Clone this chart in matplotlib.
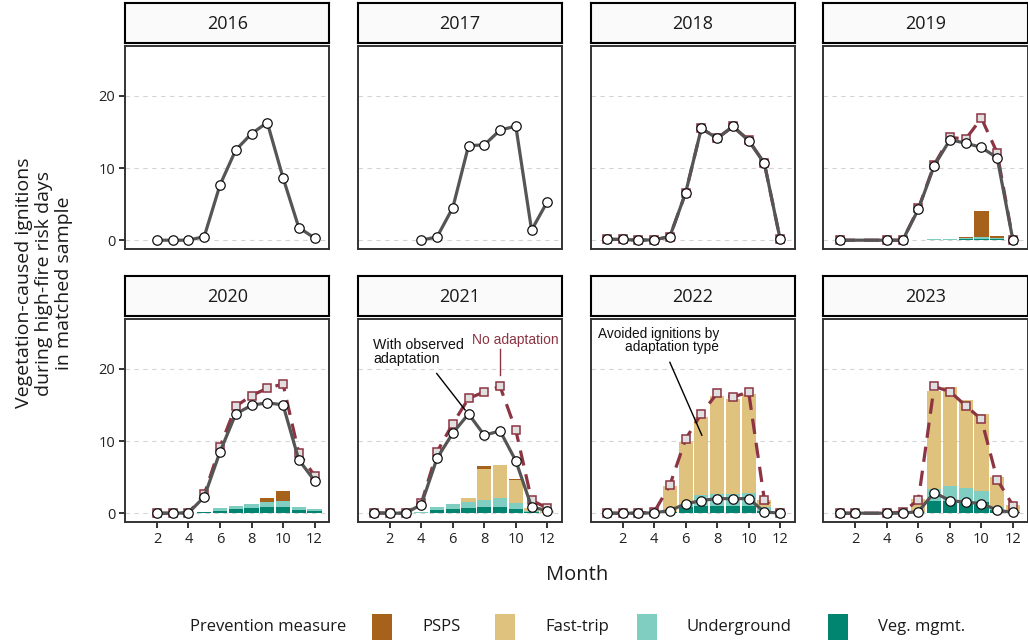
import numpy as np
import matplotlib
matplotlib.use("Agg")
import matplotlib.pyplot as plt
from matplotlib.patches import Rectangle

nan = np.nan

years = [2016, 2017, 2018, 2019, 2020, 2021, 2022, 2023]
months = np.arange(1, 13)
x_ticks = [2, 4, 6, 8, 10, 12]
y_ticks = [0, 10, 20]

# Monthly vegetation-caused ignitions with the adaptation actually in place
observed = {
    2016: [nan, 0, 0, 0, 0.5, 7.65, 12.5, 14.75, 16.3, 8.66, 1.75, 0.3],
    2017: [nan, nan, nan, 0, 0.45, 4.5, 13.1, 13.2, 15.25, 15.8, 1.4, 5.35],
    2018: [0.13, 0.1, 0, 0.05, 0.5, 6.55, 15.5, 14.1, 15.75, 13.8, 10.65, 0.15],
    2019: [0, nan, nan, 0, 0, 4.3, 10.3, 13.9, 13.45, 12.85, 11.4, 0],
    2020: [nan, 0, 0, 0.05, 2.26, 8.5, 13.75, 14.95, 15.3, 15.0, 7.4, 4.5],
    2021: [0.05, 0, 0, 1.2, 7.6, 11.1, 13.75, 10.8, 11.4, 7.25, 0.88, 0.33],
    2022: [0, 0, 0, 0.05, 0.37, 1.29, 1.75, 2.03, 2.0, 2.03, 0.18, 0],
    2023: [0, 0, nan, 0, 0, 0.23, 2.86, 1.75, 1.52, 1.34, 0.42, 0.1],
}

# Counterfactual ignitions without any adaptation (no estimate before 2018)
no_adaptation = {
    2018: [0.13, 0.1, 0, 0.05, 0.5, 6.55, 15.5, 14.1, 15.75, 13.88, 10.65, 0.15],
    2019: [0, nan, nan, 0, 0, 4.4, 10.45, 14.25, 14.0, 16.9, 12.1, 0],
    2020: [nan, 0, 0, 0.05, 2.6, 9.2, 14.8, 16.3, 17.3, 17.9, 8.35, 5.2],
    2021: [0.05, 0, 0, 1.35, 8.5, 12.4, 15.9, 16.8, 17.55, 11.5, 1.8, 0.7],
    2022: [0, 0, 0, 0.15, 3.88, 10.25, 13.8, 16.6, 16.07, 16.8, 1.85, 0],
    2023: [0, 0, nan, 0, 0.15, 1.85, 17.55, 16.85, 14.9, 13.0, 4.66, 1.06],
}

# Avoided ignitions by prevention measure (stacked bars)
veg_mgmt = {
    2019: [0, 0, 0, 0, 0, 0.02, 0.05, 0.05, 0.1, 0.15, 0.15, 0],
    2020: [0, 0, 0, 0, 0.1, 0.33, 0.55, 0.69, 0.83, 0.88, 0.46, 0.28],
    2021: [0, 0, 0, 0.08, 0.5, 0.6, 0.74, 0.88, 0.92, 0.55, 0.1, 0],
    2022: [0, 0, 0, 0, 0.1, 0.8, 0.97, 1.0, 1.0, 1.0, 0.3, 0],
    2023: [0, 0, 0, 0, 0, 0.05, 1.7, 1.7, 1.6, 1.5, 0.4, 0.1],
}
underground = {
    2019: [0, 0, 0, 0, 0, 0.06, 0.1, 0.12, 0.18, 0.35, 0.2, 0],
    2020: [0, 0, 0, 0, 0.13, 0.36, 0.51, 0.65, 0.69, 0.83, 0.42, 0.37],
    2021: [0, 0, 0, 0.07, 0.42, 0.64, 0.83, 0.92, 1.16, 0.83, 0.15, 0.05],
    2022: [0, 0, 0, 0, 0.05, 0.5, 1.5, 1.63, 1.63, 1.77, 0.6, 0],
    2023: [0, 0, 0, 0, 0, 0.05, 1.6, 2.04, 1.9, 1.55, 0.47, 0.1],
}
fast_trip = {
    2021: [0, 0, 0, 0, 0, 0, 0.6, 4.39, 4.57, 3.19, 0.45, 0.2],
    2022: [0, 0, 0, 0, 3.59, 8.57, 10.88, 13.57, 13.21, 13.73, 0.9, 0],
    2023: [0, 0, 0, 0, 0, 1.8, 13.65, 13.76, 12.24, 10.65, 4.13, 1.0],
}
psps = {
    2018: [0, 0, 0, 0, 0, 0, 0, 0, 0, 0.08, 0, 0],
    2019: [0, 0, 0, 0, 0, 0, 0, 0, 0.1, 3.55, 0.25, 0],
    2020: [0, 0, 0, 0, 0, 0, 0, 0, 0.6, 1.34, 0, 0],
    2021: [0, 0, 0, 0, 0, 0, 0, 0.31, 0.05, 0.13, 0, 0],
}

measure_names = ["PSPS", "Fast-trip", "Underground", "Veg. mgmt."]
measure_colors = {"PSPS": "#a6611a", "Fast-trip": "#dfc27d",
                  "Underground": "#80cdc1", "Veg. mgmt.": "#018571"}
# stacking order from the bottom up
stack_order = [("Veg. mgmt.", veg_mgmt), ("Underground", underground),
               ("Fast-trip", fast_trip), ("PSPS", psps)]

obs_color = "#555555"
noadapt_color = "#8c3441"

W, H = 1028, 642
fig = plt.figure(figsize=(W / 100, H / 100), dpi=100)
fig.patch.set_facecolor("white")

TICK_FONT = "Open Sans"
ANN_FONT = "Liberation Sans"

col_left = [125, 357.8, 590.6, 823.4]
panel_w = 204.5
row_top = [46, 319]
panel_h = 203
strip_h = 40


def fig_rect(left, top, width, height):
    return [left / W, 1 - (top + height) / H, width / W, height / H]


axes = {}
for i, year in enumerate(years):
    r, c = divmod(i, 4)
    ax = fig.add_axes(fig_rect(col_left[c], row_top[r], panel_w, panel_h))
    axes[year] = ax
    ax.set_xlim(-0.03, 12.95)
    ax.set_ylim(-1.22, 26.9)
    ax.set_facecolor("white")
    for y in y_ticks:
        ax.axhline(y, color="#d4d4d4", lw=0.8, ls=(0, (4, 4)), zorder=0)

    # stacked bars of avoided ignitions
    bottom = np.zeros(12)
    for name, table in stack_order:
        if year in table:
            vals = np.array(table[year], dtype=float)
            ax.bar(months, vals, width=0.9, bottom=bottom,
                   color=measure_colors[name], edgecolor="none", zorder=1)
            bottom += vals

    # counterfactual without adaptation
    if year in no_adaptation:
        yv = np.array(no_adaptation[year], dtype=float)
        m = ~np.isnan(yv)
        ax.plot(months[m], yv[m], color=noadapt_color, lw=2.3,
                dashes=(4.8, 2.8), zorder=2, solid_capstyle="butt",
                dash_capstyle="butt")
        ax.plot(months[m], yv[m], ls="none", marker="s", ms=6.2,
                mfc="#e0e0e0", mec=noadapt_color, mew=1.1, zorder=3)

    # observed ignitions
    yv = np.array(observed[year], dtype=float)
    m = ~np.isnan(yv)
    ax.plot(months[m], yv[m], color=obs_color, lw=2.3, zorder=4,
            solid_joinstyle="round")
    ax.plot(months[m], yv[m], ls="none", marker="o", ms=6.8,
            mfc="white", mec="#111111", mew=0.9, zorder=5)

    for sp in ax.spines.values():
        sp.set_color("#333333")
        sp.set_linewidth(1.4)
        sp.set_zorder(6)

    ax.set_xticks(x_ticks)
    ax.set_yticks(y_ticks)
    ax.tick_params(axis="both", colors="#333333", width=1.4, length=4,
                   labelsize=10.5, labelcolor="#222222", pad=3)
    if r == 1:
        ax.set_xticklabels([str(t) for t in x_ticks], fontfamily=TICK_FONT)
    else:
        ax.tick_params(axis="x", length=0, labelbottom=False)
    if c == 0:
        ax.set_yticklabels([str(t) for t in y_ticks], fontfamily=TICK_FONT)
    else:
        ax.tick_params(axis="y", length=0, labelleft=False)

    # facet strip
    sax = fig.add_axes(fig_rect(col_left[c], row_top[r] - strip_h - 3,
                                panel_w, strip_h))
    sax.set_facecolor("#fafafa")
    sax.set_xticks([])
    sax.set_yticks([])
    for sp in sax.spines.values():
        sp.set_color("black")
        sp.set_linewidth(1.5)
    sax.text(0.5, 0.48, str(year), ha="center", va="center",
             fontsize=13, fontfamily=TICK_FONT, color="#1a1a1a",
             transform=sax.transAxes)

# annotations
ax21 = axes[2021]
ax21.text(0.94, 24.2, "With observed\nadaptation", ha="left", va="top",
          fontsize=10.2, fontfamily=ANN_FONT, color="#111111",
          linespacing=0.95, zorder=7)
ax21.plot([4.98, 6.78], [19.35, 14.3], color="black", lw=1.0, zorder=7)
ax21.text(7.25, 24.9, "No adaptation", ha="left", va="top",
          fontsize=10, fontfamily=ANN_FONT, color=noadapt_color, zorder=7)
ax21.plot([9.0, 9.0], [22.7, 19.1], color=noadapt_color, lw=1.0, zorder=7)

ax22 = axes[2022]
ax22.text(8.11, 25.8, "Avoided ignitions by\nadaptation type", ha="right",
          va="top", multialignment="right", fontsize=9.8,
          fontfamily=ANN_FONT, color="#111111", linespacing=0.95, zorder=7)
ax22.plot([5.0, 7.03], [20.9, 10.8], color="black", lw=1.0, zorder=7)

# axis titles
fig.text(44 / W, 1 - 283 / H,
         "Vegetation-caused ignitions\nduring high-fire risk days\nin matched sample",
         rotation=90, ha="center", va="center", multialignment="center",
         fontsize=14, fontfamily=TICK_FONT, color="#1a1a1a", linespacing=1.12)
fig.text(577 / W, 1 - 575 / H, "Month", ha="center", va="center",
         fontsize=14.5, fontfamily=TICK_FONT, color="#1a1a1a")

# legend
lax = fig.add_axes([0, 0, 1, 1], zorder=-1)
lax.set_xlim(0, W)
lax.set_ylim(H, 0)
lax.axis("off")
legend_y = 627
lax.text(190, legend_y, "Prevention measure", ha="left", va="center",
         fontsize=12, fontfamily=TICK_FONT, color="#1a1a1a")
key_x = [372, 495, 637, 828]
for name, kx in zip(measure_names, key_x):
    lax.add_patch(Rectangle((kx, legend_y - 13), 20, 26,
                            facecolor=measure_colors[name], edgecolor="none"))
    lax.text(kx + 50, legend_y, name, ha="left", va="center",
             fontsize=12, fontfamily=TICK_FONT, color="#1a1a1a")

fig.savefig("out.png", dpi=100, facecolor="white")
